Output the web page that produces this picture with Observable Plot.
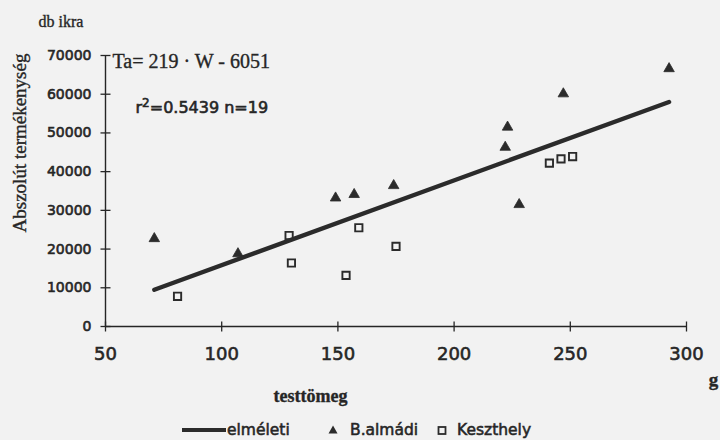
<!DOCTYPE html>
<html><head><meta charset="utf-8">
<script src="https://cdn.jsdelivr.net/npm/d3@7"></script>
<script src="https://cdn.jsdelivr.net/npm/@observablehq/plot@0.6"></script>
<style>
html,body{margin:0;padding:0;background:#f2f2f2;}
#wrap{position:relative;width:720px;height:440px;overflow:hidden;background:#f2f2f2;}
#legend{position:absolute;left:0;top:415px;width:720px;height:30px;font-family:"DejaVu Sans",sans-serif;font-size:15.5px;color:#262626;-webkit-text-stroke:0.55px #262626;}
#legend .it{position:absolute;top:0;height:30px;line-height:30px;white-space:nowrap;}
#legend svg{position:absolute;top:0;}
</style></head><body><div id="wrap"><div id="chart"></div><div id="legend"></div></div>
<script>
// Data
const almadiW  = [71, 107, 149, 157, 174, 222, 223, 228, 247, 292.5];
const almadiTa = [22700, 18800, 33200, 34100, 36400, 46300, 51500, 31500, 60100, 66600];
const keszthelyW  = [81, 129, 130, 153.5, 159, 175, 241, 246, 251];
const keszthelyTa = [7800, 23500, 16400, 13200, 25500, 20700, 42200, 43300, 43900];
const lineW  = [71, 292.5];
const lineTa = [9500, 58000];
const xTicks = [50, 100, 150, 200, 250, 300];
const yTicks = [0, 10000, 20000, 30000, 40000, 50000, 60000, 70000];
const seriesNames = ["elméleti", "B.almádi", "Keszthely"];

const ink = "#262626";
const almadi = almadiW.map((w, i) => ({w, ta: almadiTa[i]}));
const keszthely = keszthelyW.map((w, i) => ({w, ta: keszthelyTa[i]}));
const fit = lineW.map((w, i) => ({w, ta: lineTa[i]}));

const vTick = {draw(ctx){ ctx.moveTo(0, -5); ctx.lineTo(0, 5); }};
const hTick = {draw(ctx){ ctx.moveTo(-5, 0); ctx.lineTo(5, 0); }};
const serif = "Liberation Serif, serif";
const sans = "DejaVu Sans, sans-serif";

const chart = Plot.plot({
  width: 720, height: 415,
  marginLeft: 105, marginRight: 34, marginTop: 55, marginBottom: 89,
  style: {background: "none", color: ink},
  x: {domain: [50, 300]},
  y: {domain: [0, 70000]},
  marks: [
    Plot.axisY({ticks: yTicks, tickSize: 0, tickPadding: 14, tickFormat: d3.format("d"), label: null,
      fontSize: 14, fontFamily: sans, fill: ink}),
    Plot.axisX({ticks: xTicks, tickSize: 0, tickPadding: 21, tickFormat: d3.format("d"), label: null,
      fontSize: 18, fontFamily: sans, fill: ink}),
    Plot.ruleX([50], {stroke: ink, strokeWidth: 1.4}),
    Plot.ruleY([0], {stroke: ink, strokeWidth: 1.4}),
    Plot.dot(xTicks, {x: d => d, y: () => 0, symbol: vTick, stroke: ink, strokeWidth: 1.3}),
    Plot.dot(yTicks, {x: () => 50, y: d => d, symbol: hTick, stroke: ink, strokeWidth: 1.3}),
    Plot.line(fit, {x: "w", y: "ta", stroke: "#2b2b2b", strokeWidth: 4.4}),
    Plot.dot(almadi, {x: "w", y: "ta", symbol: "triangle", r: 3.9, fill: "#2b2b2b", stroke: "#2b2b2b", strokeWidth: 0.8}),
    Plot.dot(keszthely, {x: "w", y: "ta", symbol: "square", r: 4.1, fill: "none", stroke: "#2b2b2b", strokeWidth: 1.9}),
    Plot.text(["Ta= 219 · W - 6051"], {frameAnchor: "top-left", textAnchor: "start", lineAnchor: "bottom", dx: 7, dy: 12,
      fontFamily: serif, fontSize: 20, fill: ink}),
    Plot.text(["r2=0.5439 n=19"], {frameAnchor: "top-left", textAnchor: "start", lineAnchor: "bottom", dx: 30, dy: 57,
      fontFamily: sans, fontSize: 16, fill: ink}),
    Plot.text(["db ikra"], {frameAnchor: "top-left", textAnchor: "start", lineAnchor: "bottom", dx: -67, dy: -29,
      fontFamily: serif, fontSize: 16, fill: ink}),
    Plot.text(["Abszolút termékenység"], {frameAnchor: "left", rotate: -90, textAnchor: "middle", lineAnchor: "middle", dx: -86, dy: -48,
      fontFamily: serif, fontSize: 19, fill: ink}),
    Plot.text(["testtömeg"], {frameAnchor: "bottom-left", textAnchor: "middle", lineAnchor: "bottom", dx: 205, dy: 75,
      fontFamily: serif, fontSize: 18, fontWeight: "bold", fill: ink}),
    Plot.text(["g"], {frameAnchor: "bottom-right", textAnchor: "middle", lineAnchor: "bottom", dx: 27, dy: 59,
      fontFamily: serif, fontSize: 19, fontWeight: "bold", fill: ink})
  ]
});
document.getElementById("chart").appendChild(chart);

// Thicken the scanned-looking text slightly (sans text more than serif)
chart.querySelectorAll("text").forEach(t => {
  const fam = (t.getAttribute("font-family") || t.closest("[font-family]")?.getAttribute("font-family") || "");
  t.setAttribute("stroke", ink);
  t.setAttribute("stroke-width", fam.includes("DejaVu") ? "0.6" : "0.35");
});
// Superscript in r²
chart.querySelectorAll("text").forEach(t => {
  if (t.textContent === "r2=0.5439 n=19") {
    t.textContent = "";
    const ns = "http://www.w3.org/2000/svg";
    const a = document.createElementNS(ns, "tspan"); a.textContent = "r";
    const b = document.createElementNS(ns, "tspan"); b.textContent = "2"; b.setAttribute("dy", "-6"); b.setAttribute("font-size", "12");
    const c = document.createElementNS(ns, "tspan"); c.textContent = "=0.5439 n=19"; c.setAttribute("dy", "6");
    t.append(a, b, c);
  }
});

// Legend
const lg = document.getElementById("legend");
lg.innerHTML =
  `<svg width="46" height="30" style="left:181px"><line x1="1" x2="45" y1="15" y2="15" stroke="#2b2b2b" stroke-width="4"/></svg>` +
  `<span class="it" style="left:227px">${seriesNames[0]}</span>` +
  `<svg width="12" height="30" style="left:327px"><path d="M6,10.5L10.5,18.5L1.5,18.5Z" fill="#2b2b2b"/></svg>` +
  `<span class="it" style="left:350px">${seriesNames[1]}</span>` +
  `<svg width="12" height="30" style="left:436px"><rect x="2.5" y="12" width="7" height="7" fill="none" stroke="#2b2b2b" stroke-width="1.8"/></svg>` +
  `<span class="it" style="left:457px">${seriesNames[2]}</span>`;
</script></body></html>
